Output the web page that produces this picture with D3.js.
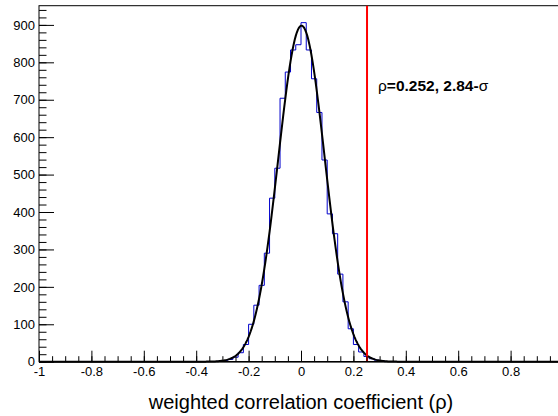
<!DOCTYPE html>
<html><head><meta charset="utf-8">
<script src="https://cdn.jsdelivr.net/npm/d3@7"></script>
<style>html,body{margin:0;padding:0;background:#fff;overflow:hidden}</style>
</head><body>
<svg id="chart" width="558" height="416"></svg>
<script>
// ---- data ----
const binLowEdges = [-0.32,-0.30,-0.28,-0.26,-0.24,-0.22,-0.20,-0.18,-0.16,-0.14,-0.12,-0.10,-0.08,-0.06,-0.04,-0.02,
                      0.00, 0.02, 0.04, 0.06, 0.08, 0.10, 0.12, 0.14, 0.16, 0.18, 0.20, 0.22, 0.24, 0.26, 0.28, 0.30];
const binCounts   = [1,3,6,12,24,46,100,151,204,290,437,517,704,774,833,847,
                     906,833,756,666,539,395,342,234,160,88,46,26,14,8,4,2];
const binWidth = 0.02;
const fitConstant = 898, fitMean = 0.002, fitSigma = 0.0885;
const xTickValues = [-1,-0.8,-0.6,-0.4,-0.2,0,0.2,0.4,0.6,0.8,1];
const xTickLabels = ["-1","-0.8","-0.6","-0.4","-0.2","0","0.2","0.4","0.6","0.8",""]; // "1" lies outside the window
const yTickValues = [0,100,200,300,400,500,600,700,800,900];
const yTickLabels = ["0","100","200","300","400","500","600","700","800","900"];
const observedRho = 0.252;
const annotationParts = [["\u03c1","normal"],["=0.252, 2.84-","bold"],["\u03c3","normal"]];
const xTitle = "weighted correlation coefficient (\u03c1)";

// ---- layout ----
const FL = 39, FR = 563, FT = 5.7, FB = 361.7;
const font = "'Liberation Sans', Arial, Helvetica, sans-serif";
const svg = d3.select("#chart");
svg.append("rect").attr("width",558).attr("height",416).attr("fill","#fff");

const x = d3.scaleLinear().domain([-1,1]).range([FL,FR]);
const y = d3.scaleLinear().domain([0,951.3]).range([FB,FT]);

// frame
svg.append("rect").attr("x",FL).attr("y",FT).attr("width",FR-FL).attr("height",FB-FT)
  .attr("fill","none").attr("stroke","#000").attr("stroke-width",1);

// histogram step outline
const pts = [[binLowEdges[0],0]];
binLowEdges.forEach((e,i)=>{ pts.push([e,binCounts[i]]); pts.push([e+binWidth,binCounts[i]]); });
pts.push([binLowEdges[binLowEdges.length-1]+binWidth,0]);
svg.append("path").attr("d", d3.line().x(d=>x(d[0])).y(d=>y(d[1]))(pts))
  .attr("fill","none").attr("stroke","#0000cc").attr("stroke-width",1);

// fit function
const fx = d3.range(-1, 1.0001, 0.004);
svg.append("path")
  .attr("d", d3.line().x(d=>x(d)).y(d=>y(fitConstant*Math.exp(-0.5*Math.pow((d-fitMean)/fitSigma,2))))(fx))
  .attr("fill","none").attr("stroke","#000").attr("stroke-width",2);

// red marker line
svg.append("line").attr("x1",x(observedRho)).attr("x2",x(observedRho)).attr("y1",FB).attr("y2",FT)
  .attr("stroke","#ff0000").attr("stroke-width",2);

// axes
const gx = svg.append("g").attr("transform",`translate(0,${FB})`);
gx.call(d3.axisBottom(x).tickValues(d3.range(-1,1.0001,0.05)).tickSize(-5.5).tickFormat(""));
gx.call(g=>g.select(".domain").remove());
const gx2 = svg.append("g").attr("transform",`translate(0,${FB})`);
gx2.call(d3.axisBottom(x).tickValues(xTickValues).tickSize(-11).tickPadding(5)
  .tickFormat((d,i)=>xTickLabels[i]));
gx2.select(".domain").remove();
gx2.selectAll("text").attr("font-family",font).attr("font-size",13).attr("fill","#000");
svg.append("line").attr("x1",FL).attr("x2",FR).attr("y1",FB).attr("y2",FB).attr("stroke","#000").attr("stroke-width",1.6);

const gy = svg.append("g").attr("transform",`translate(${FL},0)`);
gy.call(d3.axisLeft(y).tickValues(d3.range(0,951,20)).tickSize(-7.5).tickFormat(""));
gy.select(".domain").remove();
const gy2 = svg.append("g").attr("transform",`translate(${FL},0)`);
gy2.call(d3.axisLeft(y).tickValues(yTickValues).tickSize(-15).tickPadding(4)
  .tickFormat((d,i)=>yTickLabels[i]));
gy2.select(".domain").remove();
gy2.selectAll("text").attr("font-family",font).attr("font-size",13).attr("fill","#000");
svg.selectAll(".tick line").attr("stroke","#000");

// annotation
const ann = svg.append("text").attr("x",378).attr("y",91).attr("font-family",font).attr("font-size",15.5).attr("fill","#000");
annotationParts.forEach(p=>ann.append("tspan").attr("font-weight",p[1]).text(p[0]));

// x title
svg.append("text").attr("x",(FL+FR)/2).attr("y",409).attr("text-anchor","middle")
  .attr("font-family",font).attr("font-size",20).attr("fill","#000").text(xTitle);
</script>
</body></html>
